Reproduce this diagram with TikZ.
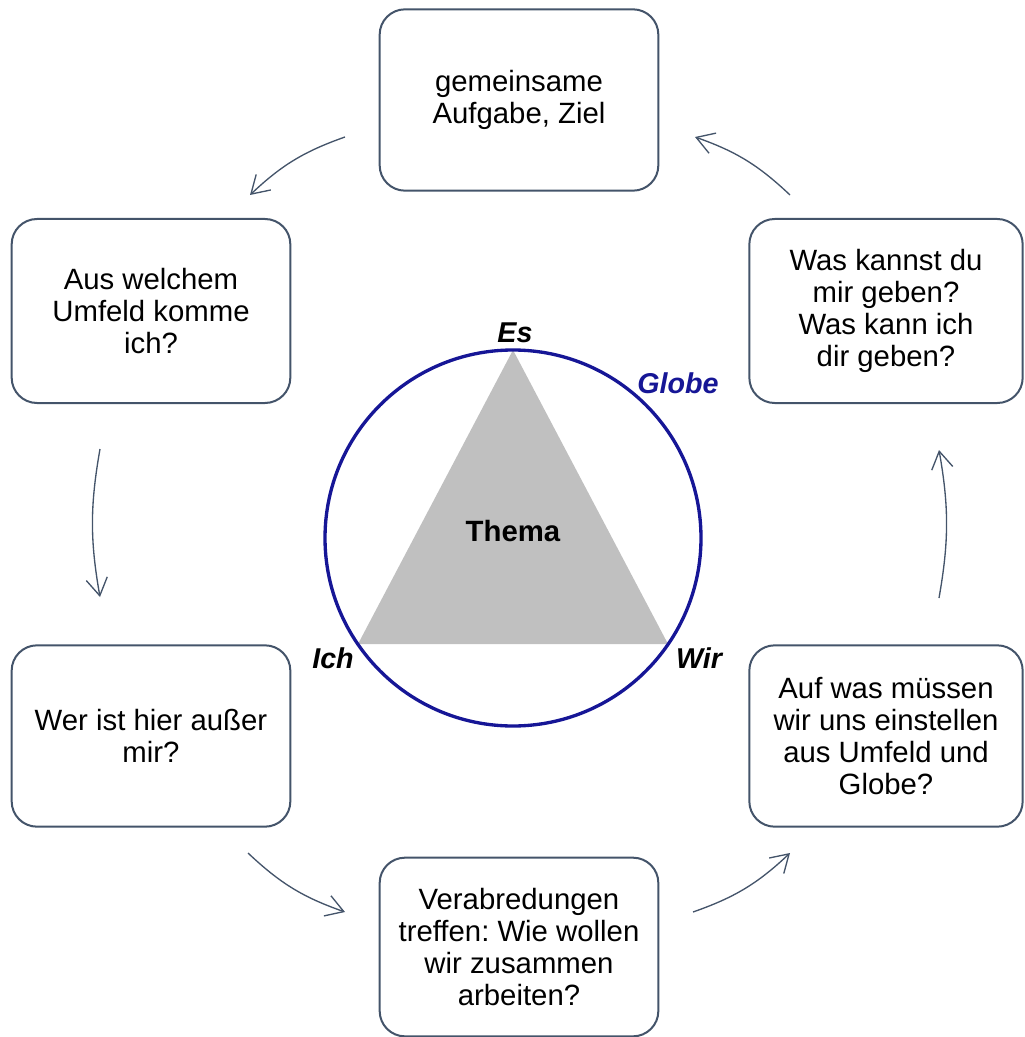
\documentclass[tikz,border=0pt]{standalone}
\usepackage{fontspec}
\setmainfont{Liberation Sans}
\usetikzlibrary{arrows.meta}
\definecolor{boxline}{RGB}{68,84,106}
\definecolor{globeblue}{RGB}{22,22,150}
\definecolor{themagray}{RGB}{192,192,192}
\tikzset{
	box/.style={draw=boxline, line width=1.5pt, rounded corners=19pt, align=center, inner sep=0pt,
		font=\fontsize{22pt}{24pt}\selectfont},
	arr/.style={-{Straight Barb[length=13pt,width=16pt]}, draw=boxline, line width=1pt},
	ecke/.style={font=\fontsize{21.5pt}{24pt}\selectfont\bfseries\itshape}
}
\frenchspacing

\begin{document}
\begin{tikzpicture}[x=0.75pt, y=-0.75pt]
		%%%%% START %%%%%
		\useasboundingbox (0,0) rectangle (1024,1037);
		
		% Kaestchen
		\node[box, minimum width=209pt, minimum height=136pt] (ziel) at (519,100) {gemeinsame\\Aufgabe, Ziel};
		\node[box, minimum width=209pt, minimum height=138pt] (umfeld) at (151,311) {Aus welchem\\Umfeld komme\\ich?};
		\node[box, minimum width=209pt, minimum height=136pt] (ausser) at (151,736) {Wer ist hier au\ss er\\mir?};
		\node[box, minimum width=209pt, minimum height=134pt] (verabredung) at (519,947) {Verabredungen\\treffen: Wie wollen\\wir zusammen\\arbeiten?};
		\node[box, minimum width=205pt, minimum height=136pt] (einstellen) at (886,736) {Auf was m\"ussen\\wir uns einstellen\\aus Umfeld und\\Globe?};
		\node[box, minimum width=205pt, minimum height=138pt] (geben) at (886,311) {Was kannst du\\mir geben?\\Was kann ich\\dir geben?};
		
		% Pfeile
		\coordinate (p1) at (345,137);  \coordinate (q1) at (250,195);
		\coordinate (p2) at (100,449);  \coordinate (q2) at (100,597);
		\coordinate (p3) at (248,853);  \coordinate (q3) at (345,912);
		\coordinate (p4) at (693,912);  \coordinate (q4) at (790,853);
		\coordinate (p5) at (939,598);  \coordinate (q5) at (939,450);
		\coordinate (p6) at (790,195);  \coordinate (q6) at (695,137);
		\draw[arr] (p1) to[bend right=12] (q1);
		\draw[arr] (p2) to[bend right=10] (q2);
		\draw[arr] (p3) to[bend right=12] (q3);
		\draw[arr] (p4) to[bend right=12] (q4);
		\draw[arr] (p5) to[bend right=10] (q5);
		\draw[arr] (p6) to[bend right=12] (q6);
		
		% Dreieck und Globe
		\coordinate (es) at (513,350);
		\coordinate (ich) at (358,644);
		\coordinate (wir) at (668,644);
		\fill[themagray] (es) -- (ich) -- (wir) -- cycle;
		\draw[globeblue, line width=2.5pt] (513,538) circle (188);
		
		\node[ecke] (esl) at (515,333) {Es};
		\node[ecke] (ichl) at (333,658) {Ich};
		\node[ecke] (wirl) at (699,658) {Wir};
		\node[ecke, text=globeblue] (globel) at (678,383) {Globe};
		\node[font=\fontsize{22pt}{24pt}\selectfont\bfseries] (thema) at (513,531) {Thema};
		
		%%%%% END %%%%%
	\end{tikzpicture}
\end{document}
